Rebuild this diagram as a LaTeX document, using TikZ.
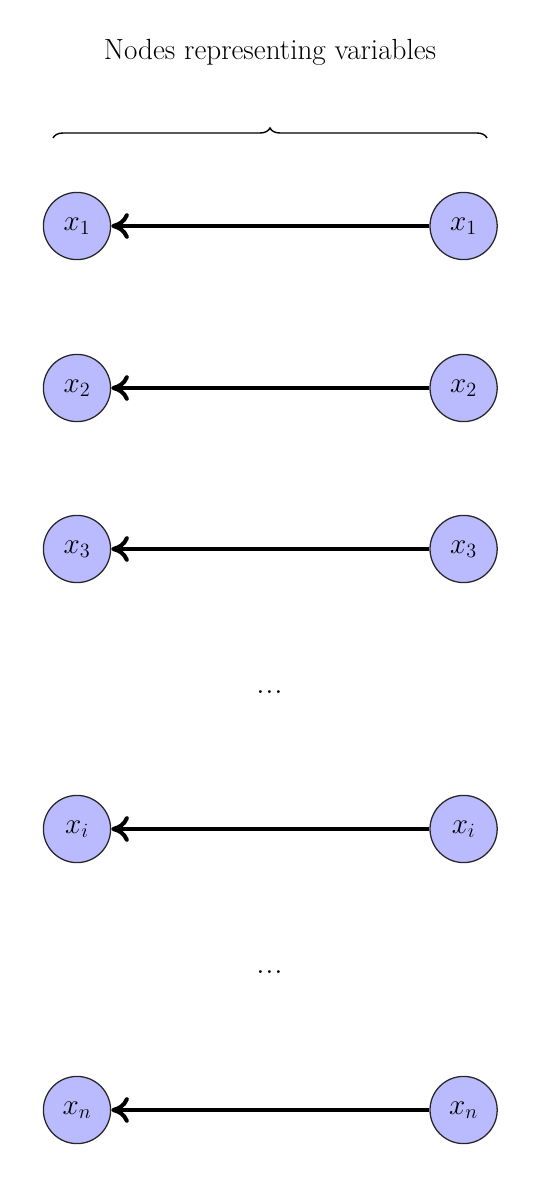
\documentclass[tikz,border=0pt]{standalone}
\usepackage{amsmath}
\usepackage{xcolor}
\usepackage{tikz}
\usetikzlibrary{arrows.meta,decorations.pathreplacing}

\begin{document}
\begin{tikzpicture}[
  var/.style={circle, draw=black!85, line width=0.9pt, fill=blue!27,
              minimum size=1.68cm, inner sep=0, font=\fontsize{22.5}{27}\selectfont},
  link/.style={-{To[length=4.4mm, width=6.4mm]}, line width=2.9pt},
  note/.style={font=\huge},
]
\useasboundingbox (0,0) rectangle (13.5,-29.7);
% ---- one row per variable: right copy feeds the left copy
\foreach \nm/\lbl/\yy in {1/x_1/5.65, 2/x_2/9.7, 3/x_3/13.725, i/x_i/20.725, n/x_n/27.75} {
  \node[var] (l\nm) at (1.925,-\yy) {$\lbl$};
  \node[var] (r\nm) at (11.59,-\yy) {$\lbl$};
  \draw[link] (r\nm) -- (l\nm);
}
% elided rows
\node[font=\Huge, anchor=base] (dotsA) at (6.75,-17.33) {...};
\node[font=\Huge, anchor=base] (dotsB) at (6.75,-24.33) {...};
% header and brace over the row of nodes
\node[note] (title) at (6.75,-1.3) {Nodes representing variables};
\coordinate (braceL) at (1.325,-3.45);
\coordinate (braceR) at (12.175,-3.45);
\draw[line width=1pt, decorate, decoration={brace, amplitude=0.25cm}] (braceL) -- (braceR);
\end{tikzpicture}
\end{document}
